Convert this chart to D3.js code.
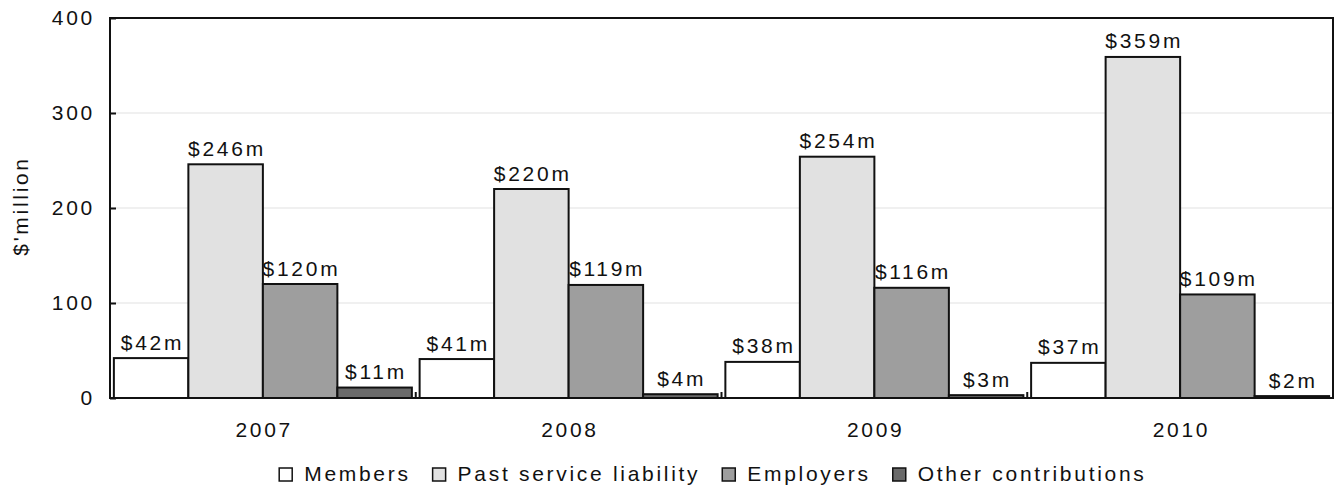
<!DOCTYPE html>
<html>
<head>
<meta charset="utf-8">
<script src="https://cdn.jsdelivr.net/npm/d3@7"></script>
<style>
  html, body { margin: 0; padding: 0; background: #fff; }
  svg text { font-family: "Liberation Sans", Arial, sans-serif; fill: #111; font-size: 21px; letter-spacing: 2.7px; }
</style>
</head>
<body>
<svg id="chart" width="1335" height="485"></svg>
<script>
// Contributions by year, $ million
const years = ["2007", "2008", "2009", "2010"];
const seriesNames = ["Members", "Past service liability", "Employers", "Other contributions"];
const members = [42, 41, 38, 37];
const pastService = [246, 220, 254, 359];
const employers = [120, 119, 116, 109];
const otherContrib = [11, 4, 3, 2];
const yTicks = [0, 100, 200, 300, 400];
const seriesColors = ["#ffffff", "#e1e1e1", "#9e9e9e", "#6a6a6a"];

const seriesValues = [members, pastService, employers, otherContrib];
const LS = 2.7; // letter spacing used by all labels

const svg = d3.select("#chart");
const margin = { left: 110, right: 2, top: 18, bottom: 87 };
const W = 1335, H = 485;
const plotW = W - margin.left - margin.right;
const plotH = H - margin.top - margin.bottom;

const g = svg.append("g").attr("transform", `translate(${margin.left},${margin.top})`);

const x0 = d3.scaleBand().domain(years).range([0, plotW]).paddingInner(0).paddingOuter(0);
const x1 = d3.scaleBand().domain(seriesNames).range([0, x0.bandwidth()]).paddingOuter(0.052).paddingInner(0);
const y = d3.scaleLinear().domain([0, 400]).range([plotH, 0]);

// horizontal gridlines
g.selectAll("line.grid").data(yTicks.filter(t => t > 0 && t < 400)).enter()
  .append("line")
  .attr("x1", 0).attr("x2", plotW)
  .attr("y1", d => y(d)).attr("y2", d => y(d))
  .attr("stroke", "#ebebeb").attr("stroke-width", 1.5);

// bars
const groups = g.selectAll("g.year").data(years).enter().append("g")
  .attr("transform", d => `translate(${x0(d)},0)`);

groups.each(function (yr, i) {
  const rows = seriesNames.map((s, k) => ({ s, k, v: seriesValues[k][i] }));
  const gg = d3.select(this);
  gg.selectAll("rect").data(rows).enter().append("rect")
    .attr("x", d => x1(d.s))
    .attr("y", d => y(d.v))
    .attr("width", x1.bandwidth())
    .attr("height", d => y(0) - y(d.v))
    .attr("fill", d => seriesColors[d.k])
    .attr("stroke", "#111").attr("stroke-width", 2);
  gg.selectAll("text").data(rows).enter().append("text")
    .attr("x", d => x1(d.s) + x1.bandwidth() / 2 + LS / 2)
    .attr("y", d => y(d.v) - 8.5)
    .attr("text-anchor", "middle")
    .text(d => `$${d.v}m`);
});

// frame
g.append("rect").attr("x", 0).attr("y", 0).attr("width", plotW).attr("height", plotH)
  .attr("fill", "none").attr("stroke", "#111").attr("stroke-width", 2);

// y axis
const yAxis = d3.axisLeft(y).tickValues(yTicks).tickSize(-6).tickPadding(15);
const ya = g.append("g").call(yAxis);
ya.select(".domain").remove();
ya.selectAll("line").attr("stroke", "#111").attr("stroke-width", 2);
ya.selectAll("text").attr("font-size", null).attr("font-family", null).attr("fill", "#111");

// x axis: category ticks at band edges
const xa = g.append("g").attr("transform", `translate(0,${plotH})`);
xa.selectAll("line").data(years.slice(1)).enter().append("line")
  .attr("x1", d => x0(d)).attr("x2", d => x0(d))
  .attr("y1", 0).attr("y2", -6)
  .attr("stroke", "#111").attr("stroke-width", 2);
xa.selectAll("text").data(years).enter().append("text")
  .attr("x", d => x0(d) + x0.bandwidth() / 2 + LS / 2)
  .attr("y", 39)
  .attr("text-anchor", "middle")
  .text(d => d);

// y axis title
svg.append("text")
  .attr("transform", `translate(28,${margin.top + plotH / 2 - 2}) rotate(-90)`)
  .attr("text-anchor", "middle")
  .text("$'million");

// legend
const leg = svg.append("g");
let cx = 0;
seriesNames.forEach((s, k) => {
  const item = leg.append("g").attr("transform", `translate(${cx},0)`);
  item.append("rect").attr("x", 0).attr("y", -13).attr("width", 13).attr("height", 13)
    .attr("fill", seriesColors[k]).attr("stroke", "#111").attr("stroke-width", 1.5);
  const t = item.append("text").attr("x", 25).attr("y", 0).text(s);
  cx += 25 + t.node().getComputedTextLength() + 22;
});
const legW = cx - 22 - LS;
leg.attr("transform", `translate(${margin.left + plotW / 2 - 10 - legW / 2},481)`);
</script>
</body>
</html>
